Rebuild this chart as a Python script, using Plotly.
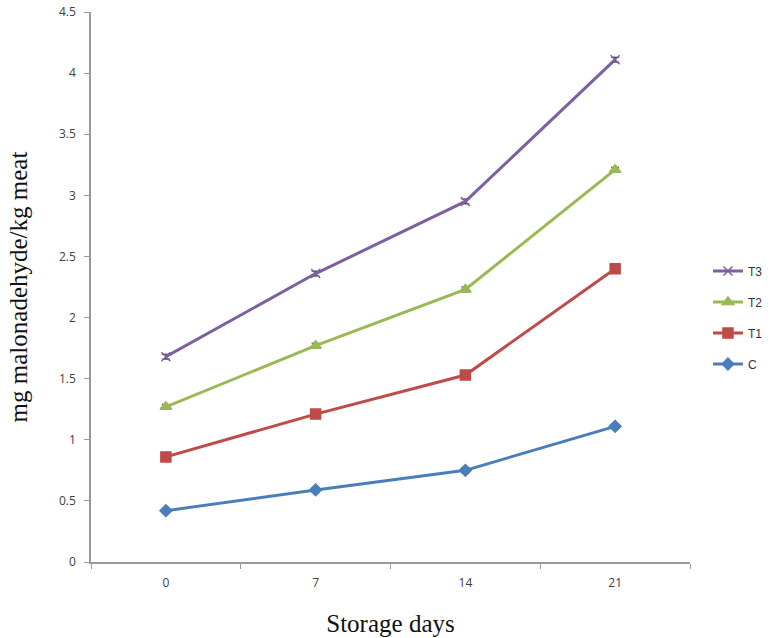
import plotly.graph_objects as go

days = ["0", "7", "14", "21"]
C = [0.42, 0.59, 0.75, 1.11]
T1 = [0.86, 1.21, 1.53, 2.40]
T2 = [1.27, 1.77, 2.23, 3.21]
T3 = [1.68, 2.36, 2.95, 4.11]
err = [0.02, 0.02, 0.02, 0.02]

series = [
    ("C", C, "#4A7EBB", "diamond", 9, 4),
    ("T1", T1, "#BE4B48", "square", 10, 3),
    ("T2", T2, "#98B954", "triangle-up", 10, 2),
    ("T3", T3, "#7D60A0", "x-thin", 9, 1),
]

fig = go.Figure()
for name, vals, col, sym, sz, rank in series:
    fig.add_trace(go.Scatter(
        x=days, y=vals, name=name, mode="lines+markers",
        line=dict(color=col, width=3),
        marker=dict(symbol=sym, size=sz, color=col,
                    line=dict(color=col, width=1.5)),
        error_y=dict(type="data", array=err, color="#222222", thickness=1, width=4),
        legendgroup=name, legendrank=rank,
    ))

fig.update_layout(
    width=775, height=638,
    margin=dict(l=91, r=85, t=12, b=76, autoexpand=False),
    paper_bgcolor="white", plot_bgcolor="white",
    showlegend=True,
    legend=dict(x=1.03, y=0.5555, xanchor="left", yanchor="top",
                traceorder="grouped", tracegroupgap=12,
                font=dict(family="Liberation Sans, Arial", size=12, color="#333333"),
                itemwidth=30, bgcolor="rgba(0,0,0,0)"),
    xaxis=dict(
        type="category", range=[-0.5, 3.5], automargin=False,
        showline=True, linecolor="#999999", linewidth=1.5,
        ticks="outside", tickson="boundaries", ticklen=5, tickcolor="#999999",
        showgrid=False, zeroline=False, ticklabelstandoff=9,
        tickfont=dict(family="Open Sans, Liberation Sans", size=12, color="#404040"),
        title=dict(text="Storage days", standoff=24,
                   font=dict(family="Liberation Serif, Times New Roman", size=25, color="#111111")),
    ),
    yaxis=dict(
        range=[0, 4.5], dtick=0.5, tick0=0, automargin=False,
        showline=True, linecolor="#999999", linewidth=1.5,
        ticks="outside", ticklen=5, tickcolor="#999999",
        showgrid=False, zeroline=False, ticklabelstandoff=6,
        tickfont=dict(family="Open Sans, Liberation Sans", size=12, color="#404040"),
        title=dict(text="mg malonadehyde/kg meat", standoff=24,
                   font=dict(family="Liberation Serif, Times New Roman", size=25, color="#111111")),
    ),
)

fig.write_html("out.html",
               config={"displayModeBar": False},
               post_script="document.body.style.margin='0';document.body.style.overflow='hidden';")
